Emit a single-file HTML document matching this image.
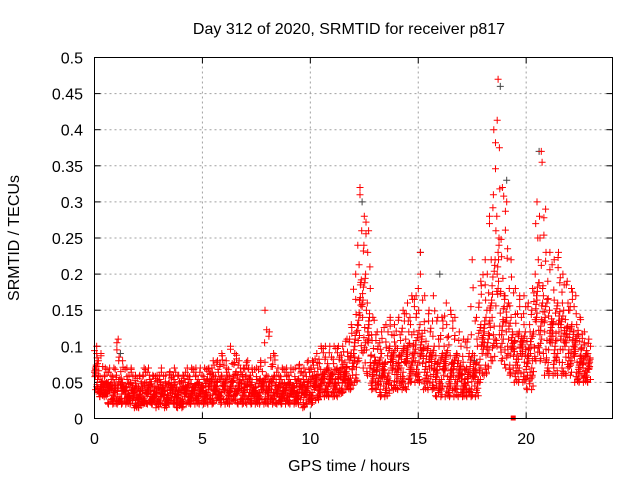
<!DOCTYPE html>
<html><head><meta charset="utf-8"><style>
html,body{margin:0;padding:0;background:#fff}
svg{display:block;font-family:"Liberation Sans",sans-serif}
</style></head><body>
<svg id="chart" width="640" height="480" viewBox="0 0 640 480">
<text x="349" y="34" font-size="16" text-anchor="middle">Day 312 of 2020, SRMTID for receiver p817</text>
<g id="grid"></g>
<g id="ticks"></g>
<g id="marks"></g>
<rect x="94.5" y="57.5" width="518" height="361" fill="none" stroke="#000"/>
<text x="349" y="471" font-size="16" text-anchor="middle">GPS time / hours</text>
<text transform="translate(19,238) rotate(-90)" font-size="16" text-anchor="middle">SRMTID / TECUs</text>
</svg>
<script>
const xTicks=[0,5,10,15,20];
const yTicks=[0,0.05,0.1,0.15,0.2,0.25,0.3,0.35,0.4,0.45,0.5];
const yTickLabels=["0","0.05","0.1","0.15","0.2","0.25","0.3","0.35","0.4","0.45","0.5"];
const step=0.2;
const seriesA=[4,3,3,2,2, 2,2,2,2,1.5, 1.5,2,2,2,1.5, 2,1.5,2,2,1.5, 1.5,2,2,2,2, 2,2,2,2.5,2, 2,2,2.5,2,2, 2,2,2,2,2, 2,2,2,2,2, 2,2,2,1.5,2, 2,2.5,3,3,3, 3,3,3.5,4,4, 5,8,7,6,4, 4,3,3,3.5,4, 4,4,4,5,5, 5,4,4,4,3, 3,3,3,3,3, 3,3,3,3,5, 6,7,8,10,8, 7,6,5,5,5, 4,4,8,8,6, 6,6,6,6,6, 6,5,5,5,5];
const seriesB=[6,4,4,4,4, 3,4,3.5,3.5,3, 3,3,3.5,3,3, 3.5,3,3.5,3.5,3, 3,3.5,3.5,3.5,3.5, 3.5,4,4,4,4, 4,4,4.5,4,4, 4,3.5,3.5,4,4, 4,4,3.5,3.5,3.5, 3.5,3.5,4,3.5,4, 4,4.5,5,5,5, 5,5,5.5,6,6, 8,15,14,11,7, 6,6,6,7,7, 7,7,8,8,8, 9,8,7,7,6, 6,7,6,6,6, 5,5,6,6,9, 10,12,14,18,14, 12,10,9,9,9, 8,9,14,14,12, 11,11,12,11,11, 10,9,8,7,7];
const seriesC=[8,6,5,5,5, 6,5,5,5,4.5, 4.5,5,5,4.5,4.5, 5,4.5,5,5,4.5, 4.5,5,5,5,5, 5,5.5,6,6,6, 6,6,6.5,6,5.5, 6,5,5,5.5,6, 6,6,5,5,5, 5,5,5.5,5,6, 6,6.5,7,7,7, 7,7,7.5,8,9, 13,22,20,16,10, 8,9,9,10,10, 10,10,11,12,12, 13,11,10,10,9, 9,10,9,9,8, 7,7,9,9,13, 15,18,22,28,20, 17,14,12,12,12, 11,12,20,22,17, 15,15,16,15,14, 13,12,11,9,9];
const seriesD=[10,9,7,7,7, 11,8,7,7,6, 6,7,7,6,6, 7,6,6.5,7,6, 6,7,7,7,7, 7,7,8,8,9, 8,10,9,8,7, 8,7,7,8,15, 12,9,7,7,7, 7,7,7.5,7,8, 8,9,10,10,10, 10,10,10,11,13, 20,32,28,26,14, 12,12,13,14,13, 14,15,16,17,17, 23,17,15,17,14, 14,16,15,14,12, 11,11,22,14,19, 22,28,40,47,32, 30,22,18,17,17, 16,18,30,37,29, 23,22,23,20,19, 18,17,14,12,11];
const blackTimes=[12.4,18.8,20.6,15.1,19.1,1.2,16.0,13.2,17.6];
const blackVals=[0.30,0.46,0.37,0.23,0.33,0.09,0.2,0.06,0.08];
// scatter pattern (position within the lo..hi band, 0..3), styling only
const spread=[1.2,0.3,1.8,0.9,2.4,0.1,1.5,0.6,2.0,1.1,0.4,2.7,1.6,0.8,1.3,0.2,1.9,1.0,2.2,0.5,1.4,0.7,2.9,1.7,0.05,1.25,2.5,0.95,1.55,0.35];
const NS="http://www.w3.org/2000/svg";
const X0=94.5,X1=612.5,Y0=418.5,Y1=57.5;
function xs(v){return X0+(v/24)*(X1-X0);}
function ys(v){return Y0-(v/0.5)*(Y0-Y1);}
function mk(tag,attrs,parent){const e=document.createElementNS(NS,tag);for(const k in attrs)e.setAttribute(k,attrs[k]);parent.appendChild(e);return e;}
const grid=document.getElementById('grid'),ticks=document.getElementById('ticks'),marks=document.getElementById('marks');
xTicks.forEach(t=>{const x=xs(t);
 if(t>0){const g=mk('line',{x1:x,x2:x,y1:Y0,y2:Y1,stroke:'#a0a0a0','stroke-dasharray':'2,3'},grid);}
 const l=mk('line',{x1:x,x2:x,y1:Y0,y2:Y0-6,stroke:'#000'},ticks);
 const l2=mk('line',{x1:x,x2:x,y1:Y1,y2:Y1+6,stroke:'#000'},ticks);
 const tx=mk('text',{x:x,y:444,'font-size':16,'text-anchor':'middle'},ticks);tx.textContent=String(t);
});
yTicks.forEach((t,i)=>{const y=ys(t);
 if(i>0&&i<yTicks.length-1){const g=mk('line',{x1:X0,x2:X1,y1:y,y2:y,stroke:'#a0a0a0','stroke-dasharray':'2,3'},grid);}
 const l=mk('line',{x1:X0,x2:X0+6,y1:y,y2:y,stroke:'#000'},ticks);
 const l2=mk('line',{x1:X1,x2:X1-6,y1:y,y2:y,stroke:'#000'},ticks);
 const tx=mk('text',{x:83,y:y+6,'font-size':16,'text-anchor':'end'},ticks);tx.textContent=yTickLabels[i];
});
let d='';
function plusPath(t,v){const x=xs(t),y=ys(v);return `M${(x-3.5).toFixed(1)},${y.toFixed(1)}H${(x+3.5).toFixed(1)}M${x.toFixed(1)},${(y-3.5).toFixed(1)}V${(y+3.5).toFixed(1)}`;}
function plus(t,v,color){
 const p=mk('path',{d:plusPath(t,v),stroke:color,'stroke-width':1,fill:'none'},marks);
 
 }
blackTimes.forEach((t,i)=>plus(t,blackVals[i],'#444'));
const n=seriesA.length;
for(let i=0;i<n;i++){
 const q=[seriesA[i],seriesB[i],seriesC[i],seriesD[i]];
 for(let k=0;k<10;k++){
  const t=i*step+k*0.02;
  for(let r=0;r<2;r++){
   const f=spread[(i*7+k*3+r*11)%spread.length];
   const j=Math.min(2,Math.floor(f)),w=f-j;
   const v=(q[j]+(q[j+1]-q[j])*w)/100;
   plus(t,v,'#ff0000');
  }
 }
 plus(i*step+0.1,seriesD[i]/100,'#ff0000');
 plus(i*step+0.05,seriesA[i]/100,'#ff0000');
}
const sq=mk('rect',{x:xs(19.4)-2.5,y:Y0-3,width:5,height:5,fill:'#ff0000'},marks);


</script>
</body></html>
